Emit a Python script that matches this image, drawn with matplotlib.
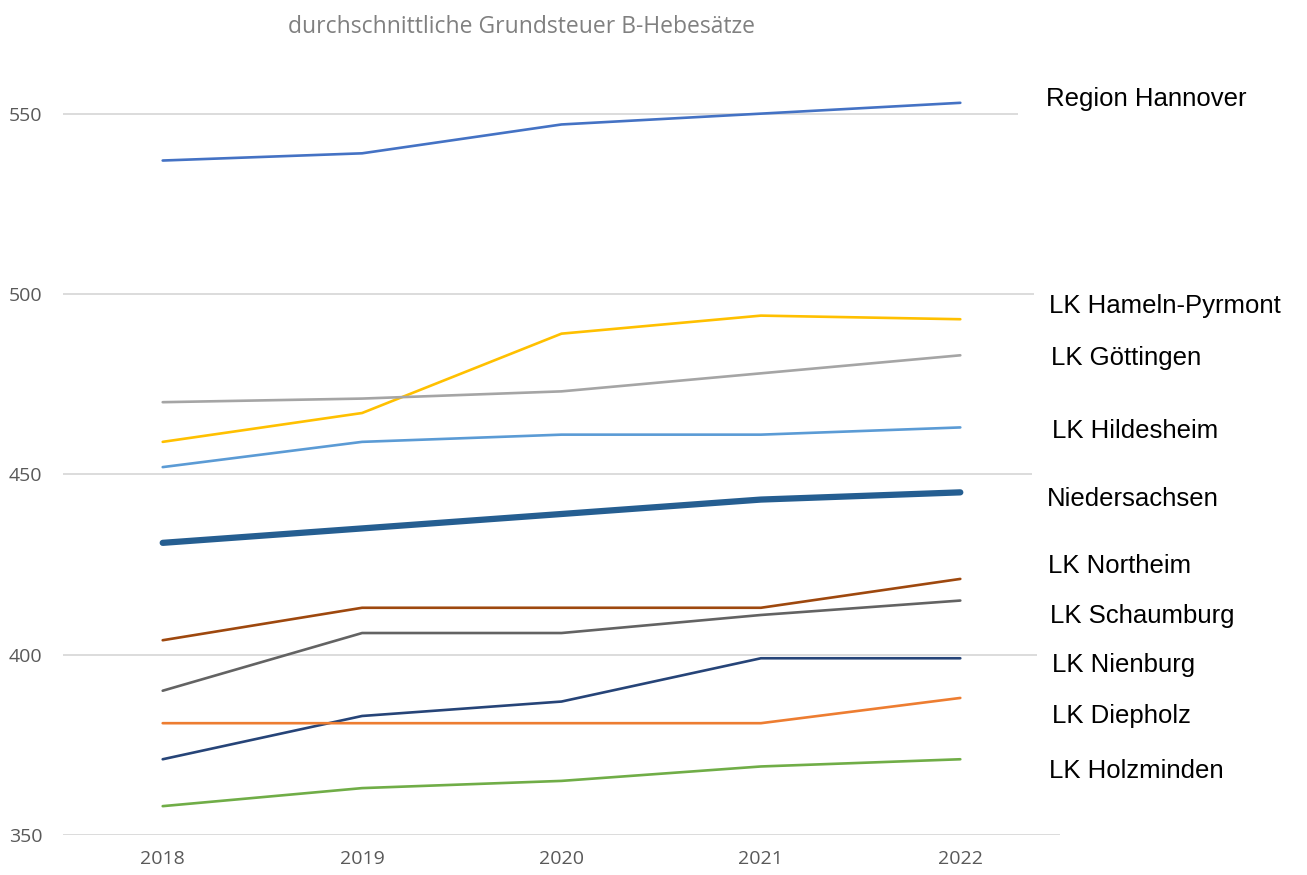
import matplotlib
matplotlib.use("Agg")
import matplotlib.pyplot as plt

years = ["2018", "2019", "2020", "2021", "2022"]

region_hannover = [537, 539, 547, 550, 553]
hameln_pyrmont = [459, 467, 489, 494, 493]
goettingen = [470, 471, 473, 478, 483]
hildesheim = [452, 459, 461, 461, 463]
niedersachsen = [431, 435, 439, 443, 445]
northeim = [404, 413, 413, 413, 421]
schaumburg = [390, 406, 406, 411, 415]
nienburg = [371, 383, 387, 399, 399]
diepholz = [381, 381, 381, 381, 388]
holzminden = [358, 363, 365, 369, 371]

names = ["Region Hannover", "LK Hameln-Pyrmont", "LK Göttingen", "LK Hildesheim",
         "Niedersachsen", "LK Northeim", "LK Schaumburg", "LK Nienburg",
         "LK Diepholz", "LK Holzminden"]
series = [region_hannover, hameln_pyrmont, goettingen, hildesheim, niedersachsen,
          northeim, schaumburg, nienburg, diepholz, holzminden]
colors = ["#4472C4", "#FFC000", "#A5A5A5", "#5B9BD5", "#255E91",
          "#9E480E", "#636363", "#264478", "#ED7D31", "#70AD47"]

# text boxes on the right: left edge and baseline, pixels in the 1307x875 figure
label_pos = [(1046, 106), (1049, 313), (1051, 365), (1052, 438), (1047, 506),
             (1048, 573), (1050, 623), (1052, 672), (1052, 723), (1049, 778)]

W, H = 1307, 875
fig = plt.figure(figsize=(W / 100, H / 100), dpi=100)
ax = fig.add_axes([63 / W, 1 - 835 / H, (1060 - 63) / W, (835 - 92) / H])

x = range(len(years))
for name, vals, c in zip(names, series, colors):
    lw = 4.5 if name == "Niedersachsen" else 1.9
    ax.plot(x, vals, color=c, lw=lw, solid_capstyle="round", clip_on=False, zorder=3)

ax.set_xlim(-0.5, len(years) - 0.5)
ax.set_ylim(350, 556)
ax.set_yticks([350, 400, 450, 500, 550])
ax.set_xticks(list(x))
ax.set_xticklabels(years)
ax.grid(axis="y", color="#D9D9D9", lw=1.3)
ax.set_axisbelow(True)
for s in ax.spines.values():
    s.set_visible(False)
ax.tick_params(length=0, labelsize=14, colors="#595959")
ax.tick_params(axis="x", pad=11)
ax.tick_params(axis="y", pad=15)
for lab in ax.get_xticklabels() + ax.get_yticklabels():
    lab.set_family(["Open Sans", "DejaVu Sans"])

fig.text(521 / W, 1 - 27 / H, "durchschnittliche Grundsteuer B-Hebesätze",
         ha="center", va="center", fontsize=16.5, color="#808080",
         family=["Open Sans", "DejaVu Sans"])

for name, (px, py) in zip(names, label_pos):
    # the Region Hannover box is wider and hides more of the 550 gridline
    pad = 20 if name == "Region Hannover" else 11
    fig.text(px / W, 1 - py / H, name, ha="left", va="baseline", fontsize=18.5,
             color="black", family=["Liberation Sans", "DejaVu Sans"],
             bbox=dict(facecolor="white", edgecolor="none", pad=pad), zorder=5)

fig.savefig("out.png", dpi=100)
